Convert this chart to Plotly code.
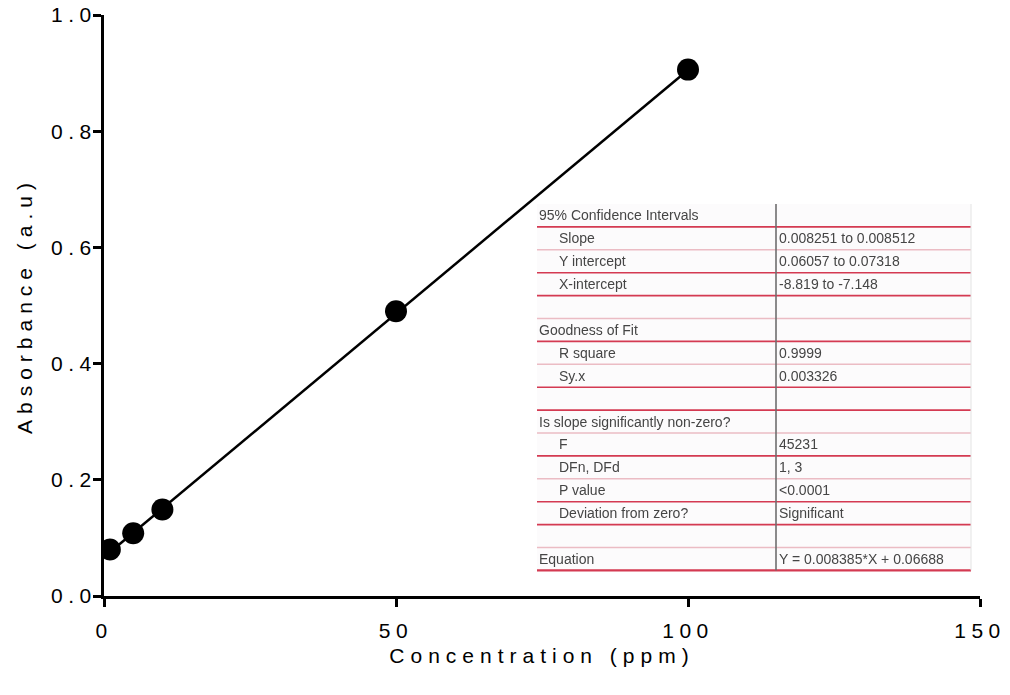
import plotly.graph_objects as go

# Standard curve measurements
concentration_ppm = [1, 5, 10, 50, 100]
absorbance_au = [0.080, 0.108, 0.149, 0.490, 0.906]

# Linear regression result
fit_slope = 0.008385
fit_intercept = 0.06688
fit_x_range = [1, 100]

x_ticks = [0, 50, 100, 150]
y_ticks = [0.0, 0.2, 0.4, 0.6, 0.8, 1.0]

# Regression summary table
table_labels = [
    "95% Confidence Intervals", "Slope", "Y intercept", "X-intercept", "",
    "Goodness of Fit", "R square", "Sy.x", "",
    "Is slope significantly non-zero?", "F", "DFn, DFd", "P value",
    "Deviation from zero?", "", "Equation",
]
table_values = [
    "", "0.008251 to 0.008512", "0.06057 to 0.07318", "-8.819 to -7.148", "",
    "", "0.9999", "0.003326", "",
    "", "45231", "1, 3", "<0.0001", "Significant", "", "Y = 0.008385*X + 0.06688",
]
label_indented = [0, 1, 1, 1, 0, 0, 1, 1, 0, 0, 1, 1, 1, 1, 0, 0]
rule_strong = [1, 0, 1, 1, 0, 1, 0, 1, 1, 0, 1, 0, 1, 1, 0, 1]

W, H = 1010, 695
ML, MR, MT, MB = 104, 30, 15, 99
PW, PH = W - ML - MR, H - MT - MB


def px(xp):
    return (xp - ML) / PW


def py(yp):
    return (H - MB - yp) / PH


fit_y = [fit_slope * x + fit_intercept for x in fit_x_range]

fig = go.Figure()
fig.add_trace(go.Scatter(
    x=fit_x_range, y=fit_y, mode="lines",
    line=dict(color="black", width=2.5), hoverinfo="skip", showlegend=False,
))
fig.add_trace(go.Scatter(
    x=concentration_ppm, y=absorbance_au, mode="markers",
    marker=dict(color="black", size=22), showlegend=False,
))

# Table geometry (pixels)
T_LEFT, T_RIGHT, T_TOP, ROW_H = 537, 971, 204, 22.9
COL_X = 776
n_rows = len(table_labels)
T_BOTTOM = T_TOP + ROW_H * n_rows

shapes = [
    dict(type="rect", xref="paper", yref="paper",
         x0=px(T_LEFT), x1=px(T_RIGHT), y0=py(T_BOTTOM), y1=py(T_TOP),
         fillcolor="#fcfbfc", line=dict(width=0), layer="above"),
]
for i in range(n_rows):
    yb = T_TOP + ROW_H * (i + 1)
    strong = rule_strong[i]
    shapes.append(dict(
        type="line", xref="paper", yref="paper",
        x0=px(T_LEFT), x1=px(T_RIGHT), y0=py(yb), y1=py(yb),
        line=dict(color="#d43a52" if strong else "#ebbcc4",
                  width=2.2 if i == n_rows - 1 else (1.6 if strong else 1.4)),
        layer="above",
    ))
shapes.append(dict(
    type="line", xref="paper", yref="paper",
    x0=px(COL_X), x1=px(COL_X), y0=py(T_BOTTOM), y1=py(T_TOP),
    line=dict(color="#6e6e6e", width=1.6), layer="above",
))
shapes.append(dict(
    type="line", xref="paper", yref="paper",
    x0=px(T_RIGHT), x1=px(T_RIGHT), y0=py(T_BOTTOM), y1=py(T_TOP),
    line=dict(color="#e4e4e4", width=1), layer="above",
))

annotations = []
tfont = dict(family="Liberation Sans, Arial, sans-serif", size=14, color="#454545")
for i, (lab, val) in enumerate(zip(table_labels, table_values)):
    yc = T_TOP + ROW_H * (i + 0.5)
    if lab:
        annotations.append(dict(
            xref="paper", yref="paper", x=px(557 if label_indented[i] else 537),
            y=py(yc), text=lab, showarrow=False, xanchor="left", yanchor="middle",
            font=tfont,
        ))
    if val:
        annotations.append(dict(
            xref="paper", yref="paper", x=px(COL_X + 1), y=py(yc), text=val,
            showarrow=False, xanchor="left", yanchor="middle", font=tfont,
        ))

axis_font = dict(family="Liberation Sans, Arial, sans-serif", size=21, color="black")

fig.update_layout(
    width=W, height=H,
    margin=dict(l=ML, r=MR, t=MT, b=MB, autoexpand=False),
    paper_bgcolor="white", plot_bgcolor="white",
    shapes=shapes, annotations=annotations,
    xaxis=dict(
        range=[0, 150], tickvals=x_ticks, ticktext=[str(v) for v in x_ticks],
        showgrid=False, zeroline=False, showline=True, linecolor="black", linewidth=3,
        ticks="outside", ticklen=8, tickwidth=3, tickcolor="black",
        tickfont=axis_font, ticklabelstandoff=6, automargin=False,
        title=dict(text="Concentration (ppm)", font=axis_font, standoff=8),
    ),
    yaxis=dict(
        range=[0, 1.0], tickvals=y_ticks, ticktext=[f"{v:.1f}" for v in y_ticks],
        showgrid=False, zeroline=False, showline=True, linecolor="black", linewidth=3,
        ticks="outside", ticklen=8, tickwidth=3, tickcolor="black",
        tickfont=axis_font, ticklabelstandoff=-8, automargin=False,
        title=dict(text="Absorbance (a.u)", font=axis_font, standoff=30),
    ),
)

spacing_js = """
var gd = document.getElementById('{plot_id}');
gd.querySelectorAll('.xtick text, .ytick text')
  .forEach(function(t){ t.style.letterSpacing = '5.5px'; });
gd.querySelectorAll('.g-xtitle text, .g-ytitle text')
  .forEach(function(t){ t.style.letterSpacing = '6px'; });
gd.querySelectorAll('.annotation-text').forEach(function(t){ t.style.filter = 'blur(0.35px)'; });
"""

fig.write_html("out.html", post_script=spacing_js)
